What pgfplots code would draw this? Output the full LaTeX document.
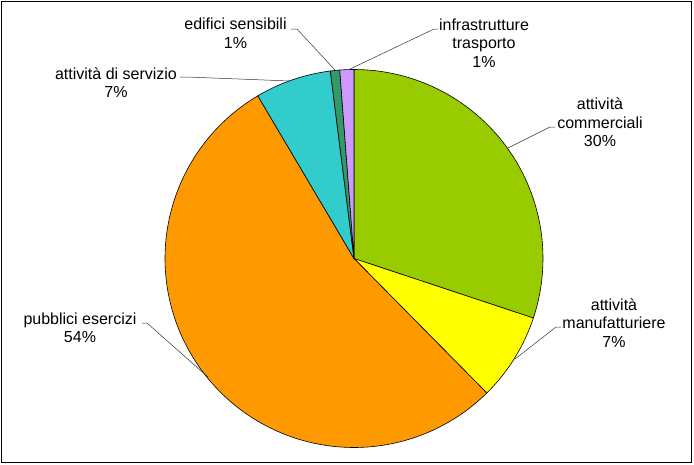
\documentclass[border=0pt]{standalone}
\usepackage{fontspec}
\setmainfont{Liberation Sans}
\usepackage{pgfplots}
\pgfplotsset{compat=1.18}
\definecolor{cComm}{HTML}{99CC00}
\definecolor{cManu}{HTML}{FFFF00}
\definecolor{cPubb}{HTML}{FF9900}
\definecolor{cServ}{HTML}{33CCCC}
\definecolor{cSens}{HTML}{339966}
\definecolor{cTras}{HTML}{CC99FF}
% slice values (percent), clockwise from 12 o'clock
\def\vA{30.1}% attivita commerciali
\def\vB{7.5}%  attivita manufatturiere
\def\vC{53.9}% pubblici esercizi
\def\vD{6.5}%  attivita di servizio
\def\vE{0.8}%  edifici sensibili
\def\vF{1.2}%  infrastrutture trasporto
\pgfmathsetmacro\aA{0}
\pgfmathsetmacro\aB{\aA+3.6*\vA}
\pgfmathsetmacro\aC{\aB+3.6*\vB}
\pgfmathsetmacro\aD{\aC+3.6*\vC}
\pgfmathsetmacro\aE{\aD+3.6*\vD}
\pgfmathsetmacro\aF{\aE+3.6*\vE}
\pgfmathsetmacro\aG{\aF+3.6*\vF}
\def\cx{354}\def\cy{258.5}\def\rr{189}
\begin{document}
\begin{tikzpicture}
\begin{axis}[at={(0,0)}, anchor=south west, scale only axis,
  width=694pt, height=464pt, xmin=0, xmax=694, ymin=0, ymax=464,
  y dir=reverse, hide axis, clip=false]
\addplot[fill=cComm, draw=black, line width=0.6pt, domain=\aA:\aB, samples=80, variable=\t]
  ({\cx+\rr*sin(\t)},{\cy-\rr*cos(\t)}) -- (axis cs:\cx,\cy) -- cycle;
\addplot[fill=cManu, draw=black, line width=0.6pt, domain=\aB:\aC, samples=30, variable=\t]
  ({\cx+\rr*sin(\t)},{\cy-\rr*cos(\t)}) -- (axis cs:\cx,\cy) -- cycle;
\addplot[fill=cPubb, draw=black, line width=0.6pt, domain=\aC:\aD, samples=140, variable=\t]
  ({\cx+\rr*sin(\t)},{\cy-\rr*cos(\t)}) -- (axis cs:\cx,\cy) -- cycle;
\addplot[fill=cServ, draw=black, line width=0.6pt, domain=\aD:\aE, samples=30, variable=\t]
  ({\cx+\rr*sin(\t)},{\cy-\rr*cos(\t)}) -- (axis cs:\cx,\cy) -- cycle;
\addplot[fill=cSens, draw=black, line width=0.6pt, domain=\aE:\aF, samples=6, variable=\t]
  ({\cx+\rr*sin(\t)},{\cy-\rr*cos(\t)}) -- (axis cs:\cx,\cy) -- cycle;
\addplot[fill=cTras, draw=black, line width=0.6pt, domain=\aF:\aG, samples=8, variable=\t]
  ({\cx+\rr*sin(\t)},{\cy-\rr*cos(\t)}) -- (axis cs:\cx,\cy) -- cycle;
% frame
\draw[black, line width=1pt] (axis cs:1.5,1.5) rectangle (axis cs:691.5,462.5);
% leader lines
\draw[black!80, line width=0.5pt] (axis cs:438,29) -- (axis cs:434,29) -- (axis cs:348,70);
\draw[black!80, line width=0.5pt] (axis cs:291,29) -- (axis cs:297,29) -- (axis cs:335,70);
\draw[black!80, line width=0.5pt] (axis cs:180,77) -- (axis cs:187,77) -- (axis cs:290,81);
\draw[black!80, line width=0.5pt] (axis cs:555,127) -- (axis cs:550,127) -- (axis cs:508,148);
\draw[black!80, line width=0.5pt] (axis cs:561,327) -- (axis cs:556,327) -- (axis cs:515,359);
\draw[black!80, line width=0.5pt] (axis cs:142,323) -- (axis cs:147,323) -- (axis cs:208,377);
% labels
\tikzset{lab/.style={align=center, inner sep=0pt, font=\fontsize{16}{18.5}\selectfont}}
\node[lab] at (axis cs:484,43) {infrastrutture\\trasporto\\1\%};
\node[lab] at (axis cs:235.5,33) {edifici sensibili\\1\%};
\node[lab] at (axis cs:116,82.5) {attività di servizio\\7\%};
\node[lab] at (axis cs:600,122.5) {attività\\commerciali\\30\%};
\node[lab] at (axis cs:614,323) {attività\\manufatturiere\\7\%};
\node[lab] at (axis cs:80,328) {pubblici esercizi\\54\%};
\end{axis}
\path[use as bounding box] (0,0) rectangle (694pt,464pt);
\end{tikzpicture}
\end{document}
